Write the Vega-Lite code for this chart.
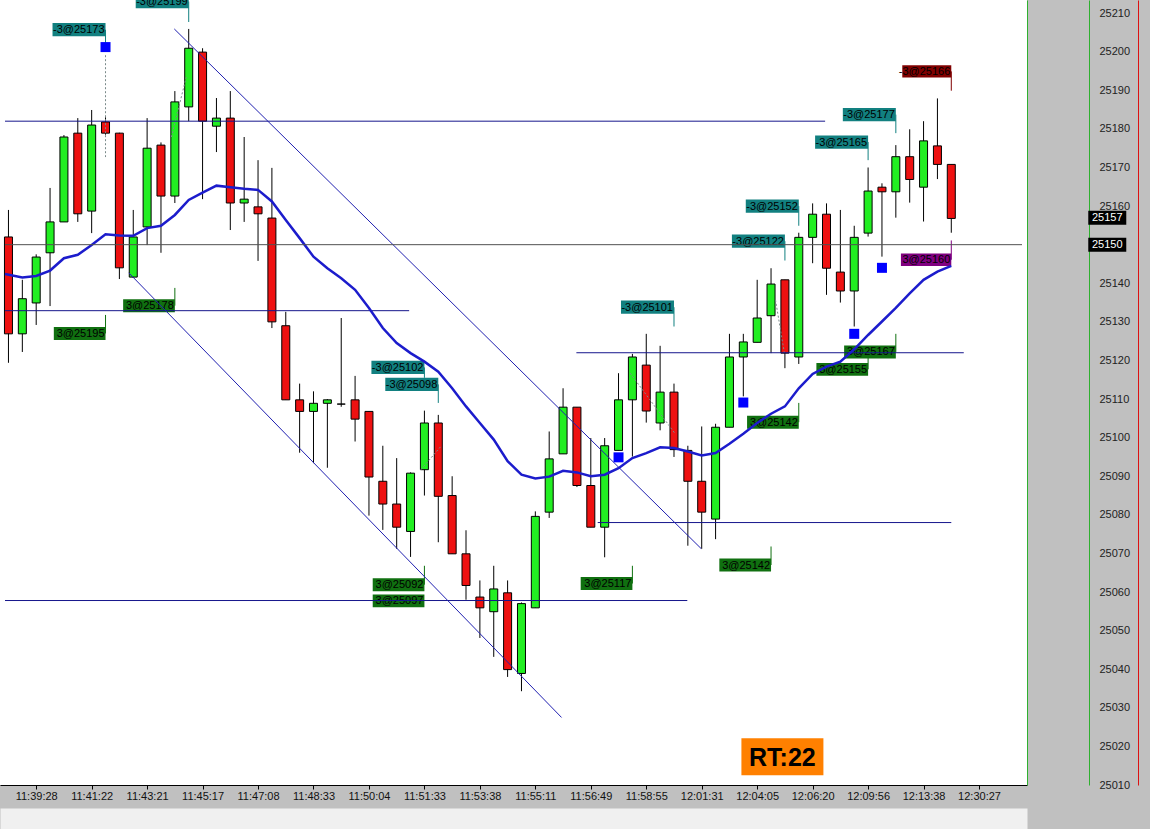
{
  "$schema": "https://vega.github.io/schema/vega-lite/v6.json",
  "width": 1027,
  "height": 785,
  "autosize": {"type": "none"},
  "padding": {"left": 0, "top": 0, "right": 123, "bottom": 44},
  "background": "#c0c0c0",
  "config": {
    "view": {"fill": "#ffffff", "stroke": null},
    "font": "Liberation Sans",
    "axis": {"grid": false}
  },
  "datasets": {
    "candles": [
      {"i":0,"o":25152,"h":25159,"l":25119.4,"c":25126.9},
      {"i":1,"o":25126.9,"h":25140.9,"l":25122.2,"c":25136},
      {"i":2,"o":25134.9,"h":25147.5,"l":25129.2,"c":25146.8},
      {"i":3,"o":25147.9,"h":25164.7,"l":25134.1,"c":25155.9},
      {"i":4,"o":25155.9,"h":25178.4,"l":25155.9,"c":25177.9},
      {"i":5,"o":25178.9,"h":25182.8,"l":25155.9,"c":25158},
      {"i":6,"o":25158.7,"h":25184.9,"l":25153,"c":25181},
      {"i":7,"o":25181.8,"h":25183,"l":25178.5,"c":25178.9},
      {"i":8,"o":25178.9,"h":25179,"l":25141.1,"c":25144},
      {"i":9,"o":25141.6,"h":25159,"l":25141.4,"c":25152},
      {"i":10,"o":25154.6,"h":25182.8,"l":25149.9,"c":25175},
      {"i":11,"o":25175.8,"h":25176.5,"l":25147.9,"c":25162.6},
      {"i":12,"o":25162.6,"h":25189.8,"l":25160.8,"c":25187},
      {"i":13,"o":25185.7,"h":25205.9,"l":25182,"c":25200.9},
      {"i":14,"o":25199.9,"h":25200.9,"l":25161.8,"c":25182},
      {"i":15,"o":25180.7,"h":25188,"l":25174,"c":25182.8},
      {"i":16,"o":25182.8,"h":25189.8,"l":25153.8,"c":25160.8},
      {"i":17,"o":25160.8,"h":25177.9,"l":25155.9,"c":25161.8},
      {"i":18,"o":25159.8,"h":25171.9,"l":25145.8,"c":25158},
      {"i":19,"o":25156.9,"h":25169.9,"l":25128.4,"c":25130},
      {"i":20,"o":25129,"h":25132.6,"l":25109.8,"c":25109.8},
      {"i":21,"o":25109.8,"h":25114,"l":25096.1,"c":25106.8},
      {"i":22,"o":25106.8,"h":25112,"l":25093.4,"c":25108.9},
      {"i":23,"o":25108.9,"h":25110,"l":25092.2,"c":25109.8},
      {"i":24,"o":25108.7,"h":25131,"l":25108,"c":25108.7},
      {"i":25,"o":25109.8,"h":25116,"l":25099,"c":25104.8},
      {"i":26,"o":25106.8,"h":25106.8,"l":25079.8,"c":25089.8},
      {"i":27,"o":25088.7,"h":25097.9,"l":25076.1,"c":25082.8},
      {"i":28,"o":25082.8,"h":25094.7,"l":25071.2,"c":25076.8},
      {"i":29,"o":25075.7,"h":25091,"l":25069.1,"c":25090.8},
      {"i":30,"o":25091.7,"h":25107,"l":25085,"c":25103.8},
      {"i":31,"o":25103.8,"h":25105.9,"l":25072.9,"c":25084.8},
      {"i":32,"o":25085,"h":25090,"l":25069.9,"c":25069.9},
      {"i":33,"o":25069.9,"h":25076,"l":25058,"c":25061.7},
      {"i":34,"o":25058.7,"h":25063,"l":25048.1,"c":25055.9},
      {"i":35,"o":25054.9,"h":25066.8,"l":25043.2,"c":25060.8},
      {"i":36,"o":25059.8,"h":25063,"l":25038,"c":25039.9},
      {"i":37,"o":25038.9,"h":25057.3,"l":25034.3,"c":25057},
      {"i":38,"o":25055.9,"h":25080.9,"l":25055.9,"c":25079.6},
      {"i":39,"o":25080.7,"h":25101.6,"l":25079.2,"c":25094.5},
      {"i":40,"o":25095.8,"h":25112.8,"l":25095.8,"c":25107.9},
      {"i":41,"o":25107.9,"h":25107.9,"l":25087.2,"c":25087.6},
      {"i":42,"o":25087.6,"h":25099.9,"l":25076.8,"c":25076.8},
      {"i":43,"o":25076.8,"h":25099.9,"l":25069,"c":25097.9},
      {"i":44,"o":25096.7,"h":25116.7,"l":25096.7,"c":25109.8},
      {"i":45,"o":25109.8,"h":25121.7,"l":25095.1,"c":25120.9},
      {"i":46,"o":25118.8,"h":25126.9,"l":25103.9,"c":25106.9},
      {"i":47,"o":25103.8,"h":25123.8,"l":25101.9,"c":25111.8},
      {"i":48,"o":25111.8,"h":25114,"l":25095,"c":25096.9},
      {"i":49,"o":25096.7,"h":25097.9,"l":25072,"c":25088.7},
      {"i":50,"o":25088.7,"h":25102.9,"l":25071.2,"c":25080.7},
      {"i":51,"o":25078.9,"h":25103.6,"l":25073.7,"c":25102.7},
      {"i":52,"o":25102.7,"h":25126.9,"l":25102.7,"c":25120.9},
      {"i":53,"o":25120.9,"h":25126.9,"l":25110.7,"c":25124.8},
      {"i":54,"o":25124.7,"h":25140.9,"l":25124.7,"c":25131},
      {"i":55,"o":25131.6,"h":25143.9,"l":25121.9,"c":25139.8},
      {"i":56,"o":25140.9,"h":25140.9,"l":25118,"c":25121.9},
      {"i":57,"o":25120.9,"h":25153.1,"l":25119.1,"c":25151.9},
      {"i":58,"o":25151.9,"h":25160.7,"l":25145.2,"c":25157.9},
      {"i":59,"o":25157.9,"h":25160.7,"l":25137,"c":25143.9},
      {"i":60,"o":25142.9,"h":25159,"l":25135,"c":25138},
      {"i":61,"o":25138,"h":25154.9,"l":25128.8,"c":25151.9},
      {"i":62,"o":25153,"h":25170,"l":25152.1,"c":25163.9},
      {"i":63,"o":25164.9,"h":25165.9,"l":25146.9,"c":25163.7},
      {"i":64,"o":25163.7,"h":25175.8,"l":25157,"c":25172.8},
      {"i":65,"o":25172.8,"h":25179.9,"l":25160.9,"c":25166.9},
      {"i":66,"o":25164.9,"h":25182,"l":25156,"c":25176.9},
      {"i":67,"o":25175.6,"h":25187.9,"l":25167,"c":25170.8},
      {"i":68,"o":25170.8,"h":25170.8,"l":25153.1,"c":25156.8}
    ],
    "ma": [
      {"i":-0.25,"v":25142.4},{"i":1,"v":25141.5},{"i":2,"v":25141.9},{"i":3,"v":25143.3},
      {"i":4,"v":25146.5},{"i":5,"v":25147.4},{"i":6,"v":25149.9},{"i":7,"v":25152.7},
      {"i":8,"v":25152.4},{"i":9,"v":25152.3},{"i":10,"v":25154.3},{"i":11,"v":25154.9},
      {"i":12,"v":25157.7},{"i":13,"v":25161.6},{"i":14,"v":25163.5},{"i":15,"v":25165.3},
      {"i":16,"v":25164.9},{"i":17,"v":25164.5},{"i":18,"v":25164.2},{"i":19,"v":25161.2},
      {"i":20,"v":25156.4},{"i":21,"v":25151.7},{"i":22,"v":25146.9},{"i":23,"v":25143.9},
      {"i":24,"v":25141.3},{"i":25,"v":25138.3},{"i":26,"v":25133.6},{"i":27,"v":25128.4},
      {"i":28,"v":25124.5},{"i":29,"v":25121.9},{"i":30,"v":25119.7},{"i":31,"v":25117.1},
      {"i":32,"v":25112.8},{"i":33,"v":25108.1},{"i":34,"v":25103.8},{"i":35,"v":25099.5},
      {"i":36,"v":25093.9},{"i":37,"v":25090.4},{"i":38,"v":25089.4},{"i":39,"v":25089.9},
      {"i":40,"v":25091.4},{"i":41,"v":25091},{"i":42,"v":25090},{"i":43,"v":25090.4},
      {"i":44,"v":25092.1},{"i":45,"v":25094.7},{"i":46,"v":25096},{"i":47,"v":25097.5},
      {"i":48,"v":25097.3},{"i":49,"v":25096.4},{"i":50,"v":25095.4},{"i":51,"v":25096},
      {"i":52,"v":25098.4},{"i":53,"v":25101},{"i":54,"v":25103.8},{"i":55,"v":25106.2},
      {"i":56,"v":25108.1},{"i":57,"v":25112.8},{"i":58,"v":25116.5},{"i":59,"v":25118.4},
      {"i":60,"v":25119.7},{"i":61,"v":25122.9},{"i":62,"v":25126.6},{"i":63,"v":25130.1},
      {"i":64,"v":25133.6},{"i":65,"v":25137.4},{"i":66,"v":25140.9},{"i":67,"v":25143},
      {"i":68,"v":25144.5}
    ],
    "hlines": [
      {"x0":-0.25,"x1":58.9,"p":25182.0},
      {"x0":-0.25,"x1":28.9,"p":25132.9},
      {"x0":40.96,"x1":68.9,"p":25122.0},
      {"x0":42.5,"x1":68.0,"p":25078.0},
      {"x0":-0.25,"x1":48.96,"p":25057.8}
    ],
    "level": [{"x0":-0.25,"x1":73.1,"p":25150}],
    "diag": [
      {"x0":11.96,"p0":25205.9,"x1":49.96,"p1":25071.25},
      {"x0":8.68,"p0":25142.7,"x1":39.89,"p1":25027.5}
    ],
    "paths": [
      {"x0":7,"p0":25199.1,"x1":7,"p1":25172.7},
      {"x0":11.75,"p0":25177.9,"x1":12.82,"p1":25193.4},
      {"x0":29.75,"p0":25091.7,"x1":31.18,"p1":25097.7},
      {"x0":44.84,"p0":25116.7,"x1":48.09,"p1":25101.0},
      {"x0":55.32,"p0":25135.7,"x1":55.96,"p1":25122.0}
    ],
    "trades": [
      {"i":7,"label":"-3@25173","kind":"sell","ly":25205.7,"tip":25202.2},
      {"i":13,"label":"-3@25199","kind":"sell","ly":25213.0,"tip":25207.7},
      {"i":7,"label":"3@25195","kind":"buy","ly":25127.0,"tip":25131.8},
      {"i":12,"label":"3@25178","kind":"buy","ly":25134.2,"tip":25138.8},
      {"i":30,"label":"-3@25102","kind":"sell","ly":25118.2,"tip":25115.5},
      {"i":31,"label":"-3@25098","kind":"sell","ly":25113.8,"tip":25109.0},
      {"i":30,"label":"3@25092","kind":"buy","ly":25061.9,"tip":25066.8},
      {"i":30,"label":"3@25097","kind":"buy","ly":25057.7,"tip":25057.7},
      {"i":48,"label":"-3@25101","kind":"sell","ly":25133.8,"tip":25128.8},
      {"i":45,"label":"3@25117","kind":"buy","ly":25062.2,"tip":25066.8},
      {"i":55,"label":"3@25142","kind":"buy","ly":25067.0,"tip":25071.8},
      {"i":57,"label":"3@25142","kind":"buy","ly":25104.0,"tip":25109.0},
      {"i":57,"label":"-3@25152","kind":"sell","ly":25160.0,"tip":25154.9},
      {"i":56,"label":"-3@25122","kind":"sell","ly":25150.9,"tip":25145.9},
      {"i":62,"label":"3@25155","kind":"buy","ly":25117.7,"tip":25121.0},
      {"i":64,"label":"3@25167","kind":"buy","ly":25122.2,"tip":25126.9},
      {"i":68,"label":"3@25160","kind":"close","ly":25146.1,"tip":25151.1},
      {"i":62,"label":"-3@25165","kind":"sell","ly":25176.6,"tip":25171.9},
      {"i":64,"label":"-3@25177","kind":"sell","ly":25183.7,"tip":25178.9},
      {"i":68,"label":"-3@25166","kind":"stop","ly":25194.9,"tip":25189.9}
    ],
    "markers": [
      {"i":7,"p":25201.2},
      {"i":44,"p":25094.9},
      {"i":53,"p":25109.1},
      {"i":61,"p":25126.9},
      {"i":63,"p":25144.0}
    ],
    "rt": [{"i":55.82,"p":25017.3,"label":"RT:22"}],
    "tags": [{"p":25157,"label":"25157"},{"p":25150,"label":"25150"}]
  },
  "layer": [
    {
      "layer": [
        {
          "data": {"name": "candles"},
          "mark": {"type": "rule", "color": "#000000", "strokeWidth": 1},
          "encoding": {
            "x": {"field": "i", "type": "quantitative", "title": null,
              "scale": {"domain": [-0.25, 73.1], "nice": false, "zero": false},
              "axis": {
                "orient": "bottom", "title": null, "grid": false,
                "values": [2,6,10,14,18,22,26,30,34,38,42,46,50,54,58,62,66,70],
                "labelExpr": "['11:39:28','11:41:22','11:43:21','11:45:17','11:47:08','11:48:33','11:50:04','11:51:33','11:53:38','11:55:11','11:56:49','11:58:55','12:01:31','12:04:05','12:06:20','12:09:56','12:13:38','12:30:27'][round((datum.value-2)/4)]",
                "domainColor": "#000000", "tickColor": "#000000", "tickSize": 4,
                "labelFontSize": 11, "labelColor": "#111111", "labelPadding": 1,
                "labelOverlap": false, "labelFlush": false
              }
            },
            "y": {"field": "l", "type": "quantitative", "title": null,
              "scale": {"domain": [25010, 25213.4], "nice": false, "zero": false},
              "axis": {
                "orient": "right", "offset": 62, "title": null, "grid": false,
                "values": [25010,25020,25030,25040,25050,25060,25070,25080,25090,25100,25110,25120,25130,25140,25160,25170,25180,25190,25200,25210],
                "tickSize": 0, "labelPadding": 10, "domainColor": "#2eb02e",
                "labelFontSize": 11, "labelColor": "#222222", "labelOverlap": false,
                "labelFlush": false, "format": "d"
              }
            },
            "y2": {"field": "h"}
          }
        },
        {
          "data": {"name": "candles"},
          "mark": {"type": "bar", "size": 8, "stroke": "#000000", "strokeWidth": 1},
          "encoding": {
            "x": {"field": "i", "type": "quantitative", "title": null,
              "scale": {"domain": [-0.25, 73.1], "nice": false, "zero": false}},
            "y": {"field": "o", "type": "quantitative", "title": null,
              "scale": {"domain": [25010, 25213.4], "nice": false, "zero": false}},
            "y2": {"field": "c"},
            "fill": {"condition": {"test": "datum.c >= datum.o", "value": "#22ee22"}, "value": "#ee1111"}
          }
        },
        {
          "data": {"name": "paths"},
          "mark": {"type": "rule", "color": "#7a8a8a", "strokeWidth": 1, "strokeDash": [2, 2]},
          "encoding": {
            "x": {"field": "x0", "type": "quantitative", "title": null,
              "scale": {"domain": [-0.25, 73.1], "nice": false, "zero": false}},
            "x2": {"field": "x1"},
            "y": {"field": "p0", "type": "quantitative", "title": null,
              "scale": {"domain": [25010, 25213.4], "nice": false, "zero": false}},
            "y2": {"field": "p1"}
          }
        },
        {
          "data": {"name": "trades"},
          "mark": {"type": "rule", "strokeWidth": 1},
          "encoding": {
            "x": {"field": "i", "type": "quantitative", "title": null,
              "scale": {"domain": [-0.25, 73.1], "nice": false, "zero": false}},
            "y": {"field": "ly", "type": "quantitative", "title": null,
              "scale": {"domain": [25010, 25213.4], "nice": false, "zero": false}},
            "y2": {"field": "tip"},
            "color": {"field": "kind", "type": "nominal", "legend": null,
              "scale": {"domain": ["sell","buy","close","stop"], "range": ["#128080","#107010","#800080","#800000"]}}
          }
        },
        {
          "data": {"name": "trades"},
          "mark": {"type": "point", "filled": true, "opacity": 1, "strokeWidth": 0,
            "shape": "M-1,-0.125H0V0.125H-1Z"},
          "encoding": {
            "x": {"field": "i", "type": "quantitative", "title": null,
              "scale": {"domain": [-0.25, 73.1], "nice": false, "zero": false}},
            "y": {"field": "ly", "type": "quantitative", "title": null,
              "scale": {"domain": [25010, 25213.4], "nice": false, "zero": false}},
            "color": {"field": "kind", "type": "nominal", "legend": null,
              "scale": {"domain": ["sell","buy","close","stop"], "range": ["#128080","#107010","#800080","#800000"]}},
            "size": {"field": "kind", "type": "ordinal", "legend": null,
              "scale": {"domain": ["sell","buy","close","stop"], "range": [11236, 9604, 9604, 11236]}}
          }
        },
        {
          "data": {"name": "trades"},
          "mark": {"type": "text", "align": "right", "baseline": "middle", "dx": -1, "dy": 0.5,
            "fontSize": 11, "color": "#000000"},
          "encoding": {
            "x": {"field": "i", "type": "quantitative", "title": null,
              "scale": {"domain": [-0.25, 73.1], "nice": false, "zero": false}},
            "y": {"field": "ly", "type": "quantitative", "title": null,
              "scale": {"domain": [25010, 25213.4], "nice": false, "zero": false}},
            "text": {"field": "label"}
          }
        },
        {
          "data": {"name": "hlines"},
          "mark": {"type": "rule", "color": "#16168c", "strokeWidth": 1},
          "encoding": {
            "x": {"field": "x0", "type": "quantitative", "title": null,
              "scale": {"domain": [-0.25, 73.1], "nice": false, "zero": false}},
            "x2": {"field": "x1"},
            "y": {"field": "p", "type": "quantitative", "title": null,
              "scale": {"domain": [25010, 25213.4], "nice": false, "zero": false}}
          }
        },
        {
          "data": {"name": "diag"},
          "mark": {"type": "rule", "color": "#2020b0", "strokeWidth": 1},
          "encoding": {
            "x": {"field": "x0", "type": "quantitative", "title": null,
              "scale": {"domain": [-0.25, 73.1], "nice": false, "zero": false}},
            "x2": {"field": "x1"},
            "y": {"field": "p0", "type": "quantitative", "title": null,
              "scale": {"domain": [25010, 25213.4], "nice": false, "zero": false}},
            "y2": {"field": "p1"}
          }
        },
        {
          "data": {"name": "ma"},
          "mark": {"type": "line", "color": "#1c1ccc", "strokeWidth": 2.5},
          "encoding": {
            "x": {"field": "i", "type": "quantitative", "title": null,
              "scale": {"domain": [-0.25, 73.1], "nice": false, "zero": false}},
            "y": {"field": "v", "type": "quantitative", "title": null,
              "scale": {"domain": [25010, 25213.4], "nice": false, "zero": false}}
          }
        },
        {
          "data": {"name": "markers"},
          "mark": {"type": "square", "color": "#0000ff", "size": 100, "opacity": 1},
          "encoding": {
            "x": {"field": "i", "type": "quantitative", "title": null,
              "scale": {"domain": [-0.25, 73.1], "nice": false, "zero": false}},
            "y": {"field": "p", "type": "quantitative", "title": null,
              "scale": {"domain": [25010, 25213.4], "nice": false, "zero": false}}
          }
        },
        {
          "data": {"name": "rt"},
          "mark": {"type": "point", "filled": true, "opacity": 1, "strokeWidth": 0,
            "color": "#ff8000", "size": 6724, "shape": "M-1,-0.451H1V0.451H-1Z"},
          "encoding": {
            "x": {"field": "i", "type": "quantitative", "title": null,
              "scale": {"domain": [-0.25, 73.1], "nice": false, "zero": false}},
            "y": {"field": "p", "type": "quantitative", "title": null,
              "scale": {"domain": [25010, 25213.4], "nice": false, "zero": false}}
          }
        },
        {
          "data": {"name": "rt"},
          "mark": {"type": "text", "align": "center", "baseline": "middle", "dy": 1,
            "fontSize": 25, "fontWeight": "bold", "color": "#000000"},
          "encoding": {
            "x": {"field": "i", "type": "quantitative", "title": null,
              "scale": {"domain": [-0.25, 73.1], "nice": false, "zero": false}},
            "y": {"field": "p", "type": "quantitative", "title": null,
              "scale": {"domain": [25010, 25213.4], "nice": false, "zero": false}},
            "text": {"field": "label"}
          }
        }
      ]
    },
    {
      "layer": [
        {
          "data": {"name": "tags"},
          "mark": {"type": "point", "filled": true, "opacity": 1, "strokeWidth": 0,
            "color": "#000000", "size": 1444, "shape": "M-1,-0.368H1V0.368H-1Z"},
          "encoding": {
            "x": {"datum": 79.25, "type": "quantitative", "title": null,
              "scale": {"domain": [-0.25, 73.1], "nice": false, "zero": false},
              "axis": {"orient": "bottom", "offset": 33.5, "labels": false, "ticks": false,
                "domainColor": "#f0f0f0", "domainWidth": 21, "title": null, "grid": false}},
            "y": {"field": "p", "type": "quantitative", "title": null,
              "scale": {"domain": [25010, 25213.4], "nice": false, "zero": false},
              "axis": {"orient": "right", "offset": 111, "labels": false, "ticks": false,
                "domainColor": "#dd1111", "title": null, "grid": false}}
          }
        },
        {
          "data": {"name": "tags"},
          "mark": {"type": "text", "align": "center", "baseline": "middle", "dy": 0.5,
            "fontSize": 11, "color": "#ffffff"},
          "encoding": {
            "x": {"datum": 79.25, "type": "quantitative", "title": null,
              "scale": {"domain": [-0.25, 73.1], "nice": false, "zero": false}},
            "y": {"field": "p", "type": "quantitative", "title": null,
              "scale": {"domain": [25010, 25213.4], "nice": false, "zero": false}},
            "text": {"field": "label"}
          }
        }
      ]
    },
    {
      "data": {"name": "level"},
      "mark": {"type": "rule", "color": "#505050", "strokeWidth": 1},
      "encoding": {
        "x": {"field": "x0", "type": "quantitative", "title": null,
          "scale": {"domain": [-0.25, 73.1], "nice": false, "zero": false},
          "axis": null},
        "x2": {"field": "x1"},
        "y": {"field": "p", "type": "quantitative", "title": null,
          "scale": {"domain": [25010, 25213.4], "nice": false, "zero": false},
          "axis": {"orient": "right", "offset": 0, "labels": false, "ticks": false,
            "domainColor": "#2eb02e", "title": null, "grid": false}}
      }
    }
  ],
  "resolve": {"axis": {"x": "independent", "y": "independent"}}
}
